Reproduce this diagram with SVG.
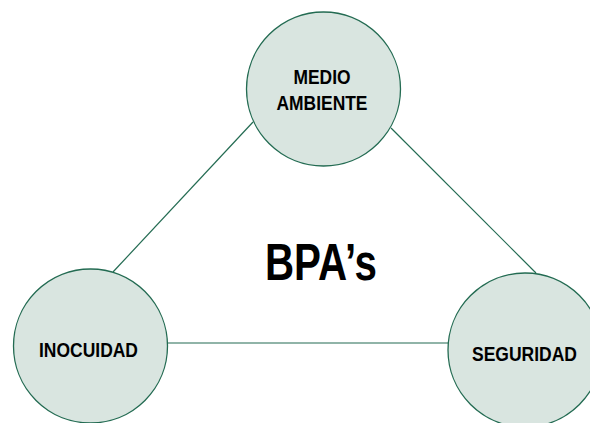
<svg xmlns="http://www.w3.org/2000/svg" width="590" height="423" viewBox="0 0 590 423">
<style>
.node{fill:#d9e5e0;stroke:#236b52;stroke-width:1.3}
.conn{stroke:#236b52;stroke-width:1.2;fill:none}
.lbl{font-family:"Liberation Sans",Arial,sans-serif;font-weight:bold;font-size:20px;fill:#000;text-anchor:middle}
.title{font-family:"Liberation Sans",Arial,sans-serif;font-weight:bold;font-size:52px;fill:#000;text-anchor:middle}
</style>
<rect width="590" height="423" fill="#ffffff"/>
<g id="connectors">
<line class="conn" x1="113" y1="272" x2="253" y2="122"/>
<line class="conn" x1="391" y1="128" x2="536" y2="273"/>
<line class="conn" x1="168" y1="343" x2="448" y2="343"/>
</g>
<g id="medio-ambiente">
<circle class="node" cx="323.5" cy="89" r="77"/>
<text class="lbl" x="322" y="84" textLength="57" lengthAdjust="spacingAndGlyphs">MEDIO</text>
<text class="lbl" x="322" y="110" textLength="91" lengthAdjust="spacingAndGlyphs">AMBIENTE</text>
</g>
<g id="inocuidad">
<circle class="node" cx="90.5" cy="346" r="77"/>
<text class="lbl" x="88.5" y="357" textLength="99" lengthAdjust="spacingAndGlyphs">INOCUIDAD</text>
</g>
<g id="seguridad">
<circle class="node" cx="525" cy="350" r="77"/>
<text class="lbl" x="524.5" y="361" textLength="105" lengthAdjust="spacingAndGlyphs">SEGURIDAD</text>
</g>
<g id="bpas">
<text class="title" x="321" y="280" textLength="112" lengthAdjust="spacingAndGlyphs">BPA’s</text>
</g>
</svg>
